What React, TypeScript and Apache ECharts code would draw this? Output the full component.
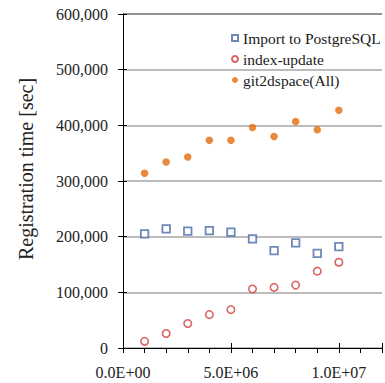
import React, { useEffect, useRef } from "react";
import * as echarts from "echarts";

const xValues = [1e6, 2e6, 3e6, 4e6, 5e6, 6e6, 7e6, 8e6, 9e6, 1e7];
const importPg = [205000, 214000, 210000, 211000, 208000, 196000, 175000, 189000, 170000, 182000];
const indexUpdate = [12000, 26000, 44000, 60000, 69000, 106000, 109000, 113000, 138000, 154000];
const git2dspace = [314000, 334000, 343000, 373000, 373000, 396000, 380000, 407000, 392000, 427000];
const xLabels: Record<number, string> = { 0: "0.0E+00", 5000000: "5.0E+06", 10000000: "1.0E+07" };

const FONT = "Liberation Serif";

export default function App() {
  const ref = useRef<HTMLDivElement>(null);
  useEffect(() => {
    document.body.style.margin = "0";
    const chart = echarts.init(ref.current!, null, { renderer: "svg" });
    const pair = (ys: number[]) => xValues.map((x, i) => [x, ys[i]]);
    const xBase = {
      type: "value" as const,
      min: 0,
      max: 12000000,
      interval: 5000000,
      splitLine: { show: false },
    };
    const yBase = {
      type: "value" as const,
      min: 0,
      max: 600000,
      interval: 100000,
    };
    chart.setOption({
      animation: false,
      textStyle: { fontFamily: FONT },
      grid: { left: 123, right: -8, top: 14, bottom: 35 },
      legend: {
        orient: "vertical",
        left: 231,
        top: 30,
        padding: 0,
        itemGap: 5,
        itemWidth: 6,
        itemHeight: 6,
        textStyle: { fontFamily: FONT, fontSize: 15.5, lineHeight: 16, color: "#1a1a1a" },
        data: ["Import to PostgreSQL", "index-update", "git2dspace(All)"],
      },
      xAxis: [
        {
          ...xBase,
          axisLine: { lineStyle: { color: "#000", width: 1 } },
          axisTick: { show: true, inside: false, length: 5, lineStyle: { color: "#000" } },
          minorTick: { show: true, splitNumber: 5, length: 5, lineStyle: { color: "#000" } },
          axisLabel: {
            margin: 16,
            fontFamily: FONT,
            fontSize: 16,
            color: "#222",
            formatter: (v: number) => xLabels[v] ?? "",
          },
        },
        {
          ...xBase,
          position: "bottom",
          axisLine: { show: false },
          axisTick: { show: true, inside: true, length: 5, lineStyle: { color: "#000" } },
          axisLabel: { show: false },
        },
      ],
      yAxis: [
        {
          ...yBase,
          name: "Registration time [sec]",
          nameLocation: "middle",
          nameGap: 87,
          nameTextStyle: { fontFamily: FONT, fontSize: 20, color: "#222", padding: [0, 0, 0, 24] },
          axisLine: { show: true, lineStyle: { color: "#000", width: 1 } },
          axisTick: { show: true, inside: false, length: 5, lineStyle: { color: "#000" } },
          axisLabel: {
            margin: 15,
            fontFamily: FONT,
            fontSize: 16,
            color: "#222",
            formatter: (v: number) => v.toLocaleString("en-US"),
          },
          splitLine: {
            show: true,
            lineStyle: {
              color: ["#a6a6a6", "#a6a6a6", "#a6a6a6", "#a6a6a6", "#a6a6a6", "#a6a6a6", "#6e6e6e"],
              width: 1.5,
            },
          },
        },
        {
          ...yBase,
          position: "left",
          axisLine: { show: false },
          axisTick: { show: true, inside: true, length: 4, lineStyle: { color: "#000" } },
          axisLabel: { show: false },
          splitLine: { show: false },
        },
      ],
      series: [
        {
          name: "Import to PostgreSQL",
          type: "scatter",
          symbol: "rect",
          symbolSize: 7.5,
          itemStyle: { color: "#fff", borderColor: "#4a6aa8", borderWidth: 1.8 },
          data: pair(importPg),
        },
        {
          name: "index-update",
          type: "scatter",
          symbol: "circle",
          symbolSize: 7.5,
          itemStyle: { color: "#fff", borderColor: "#d0403f", borderWidth: 1.6 },
          data: pair(indexUpdate),
        },
        {
          name: "git2dspace(All)",
          type: "scatter",
          symbol: "circle",
          symbolSize: 7.5,
          itemStyle: { color: "#e36c0a" },
          data: pair(git2dspace),
        },
      ],
    });
    return () => chart.dispose();
  }, []);
  return <div ref={ref} style={{ width: 385, height: 383 }} />;
}
